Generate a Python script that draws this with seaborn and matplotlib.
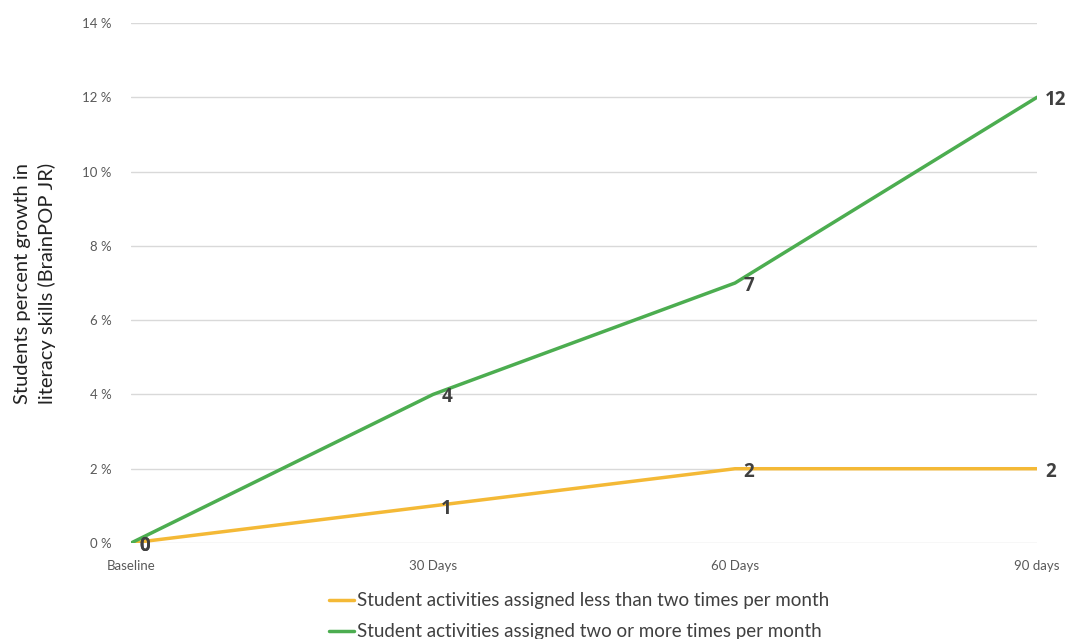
import pandas as pd
import seaborn as sns
import matplotlib.pyplot as plt

# === Data ===
periods = ["Baseline", "30 Days", "60 Days", "90 days"]
less_than_two = [0, 1, 2, 2]
two_or_more = [0, 4, 7, 12]
series_names = [
    "Student activities assigned less than two times per month",
    "Student activities assigned two or more times per month",
]
y_ticks = [0, 2, 4, 6, 8, 10, 12, 14]

df = pd.DataFrame({
    "Period": periods * 2,
    "Growth": less_than_two + two_or_more,
    "Group": [series_names[0]] * len(periods) + [series_names[1]] * len(periods),
})
df["x"] = df["Period"].map({p: i for i, p in enumerate(periods)})

# === Style ===
sns.set_style("white")
plt.rcParams['font.family'] = ['Lato', 'DejaVu Sans']
colors = ["#F4B936", "#4CAD50"]

fig = plt.figure(figsize=(10.66, 6.39), dpi=100)
ax = fig.add_axes([0.1229, 0.1502, 0.8499, 0.8138])

sns.lineplot(data=df, x="x", y="Growth", hue="Group", palette=colors,
             linewidth=2.5, ax=ax, legend=False)

# data labels
for _, row in df.iterrows():
    ax.annotate(f"{row['Growth']:g}", (row["x"], row["Growth"]),
                xytext=(6, -2), textcoords="offset points",
                ha="left", va="center", fontsize=13.5, fontweight="bold",
                family=["Open Sans", "DejaVu Sans"], color="#404040",
                annotation_clip=False)

ax.set_xlim(0, len(periods) - 1)
ax.set_ylim(0, 14)
ax.set_xticks(range(len(periods)))
ax.set_xticklabels(periods)
ax.set_yticks(y_ticks)
ax.set_yticklabels([f"{t} %" for t in y_ticks])
ax.tick_params(axis="both", labelsize=9.5, colors="#595959", length=0)
ax.tick_params(axis="x", pad=12)
ax.tick_params(axis="y", pad=14)
ax.grid(axis="y", color="#D9D9D9", linewidth=1)
ax.set_axisbelow(True)
for s in ax.spines.values():
    s.set_visible(False)

ax.set_xlabel("")
ax.set_ylabel("Students percent growth in\nliteracy skills (BrainPOP JR)",
              fontsize=14.5, color="#222222", labelpad=19, linespacing=1.45)

handles = [plt.Line2D([], [], color=c, linewidth=2.5) for c in colors]
fig.legend(handles, series_names, loc="upper left",
           bbox_to_anchor=(0.302, 0.085), frameon=False, fontsize=13.5,
           labelcolor="#404040", handlelength=1.3, handletextpad=0.15,
           labelspacing=0.75, borderaxespad=0)

plt.savefig("out.png", dpi=100)
